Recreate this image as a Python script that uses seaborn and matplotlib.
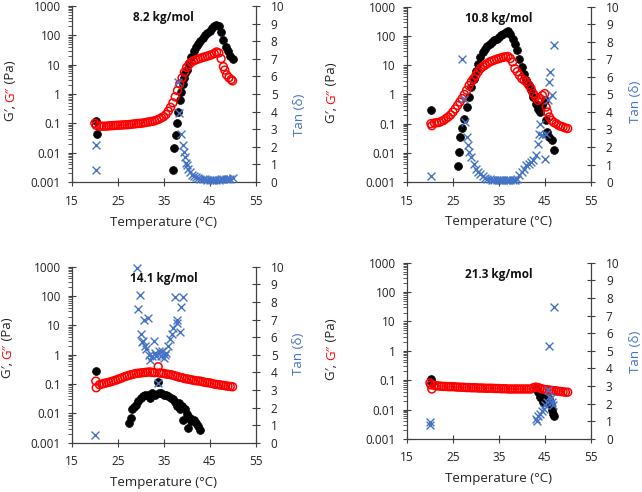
#!/usr/bin/env python3
# plot.py - G', G'' and tan(delta) vs temperature, four molecular weights

import matplotlib
matplotlib.use("Agg")
import matplotlib.pyplot as plt
import matplotlib.ticker as mticker
import seaborn as sns

# --- 1. Data ---
panel_titles = ["8.2 kg/mol", "10.8 kg/mol", "14.1 kg/mol", "21.3 kg/mol"]

# 8.2 kg/mol
t1_gp = [20.2, 20.4, 37.0, 37.3, 37.6, 37.9, 38.2, 38.5, 38.8, 39.1, 39.4, 39.7, 40.0, 40.5, 41.0, 41.5,
         42.0, 42.5, 43.0, 43.5, 44.0, 44.5, 45.0, 45.5, 46.0, 46.5, 47.0, 47.5, 48.0, 48.5, 49.0, 49.5, 50.0]
g1_gp = [0.12, 0.042, 0.0025, 0.015, 0.04, 0.1, 0.25, 0.6, 1.2, 2.2, 3.5, 5.0, 6.5, 11, 18, 28,
         40, 52, 65, 80, 100, 120, 145, 175, 205, 220, 200, 130, 70, 40, 28, 20, 15]
t1_gpp = [20.0, 20.3, 21.0, 21.5, 22.0, 22.5, 23.0, 23.5, 24.0, 24.5, 25.0, 25.5, 26.0, 26.5, 27.0, 27.5,
          28.0, 28.5, 29.0, 29.5, 30.0, 30.5, 31.0, 31.5, 32.0, 32.5, 33.0, 33.5, 34.0, 34.5, 35.0, 35.5,
          36.0, 36.5, 37.0, 37.5, 38.0, 38.5, 39.0, 39.5, 40.0, 40.5, 41.0, 41.5, 42.0, 42.5, 43.0, 43.5,
          44.0, 44.5, 45.0, 45.5, 46.0, 46.5, 47.0, 47.5, 48.0, 48.3, 48.7, 49.2, 49.7, 50.0]
g1_gpp = [0.10, 0.085, 0.08, 0.08, 0.08, 0.08, 0.082, 0.083, 0.084, 0.085, 0.086, 0.087, 0.088, 0.089, 0.09, 0.091,
          0.093, 0.095, 0.097, 0.099, 0.10, 0.103, 0.106, 0.11, 0.113, 0.117, 0.122, 0.13, 0.14, 0.155, 0.17, 0.2,
          0.26, 0.35, 0.5, 0.8, 1.3, 2.2, 3.5, 5.5, 8.0, 10, 12, 13.5, 14.5, 15.5, 16.5, 17.5,
          18.5, 19.5, 20.5, 22, 24, 27, 25, 16, 8.5, 6.5, 4.5, 3.6, 3.1, 2.8]
t1_tan = [20.3, 20.3, 38.1, 38.4, 38.8, 39.1, 39.4, 39.6, 39.8, 40.0, 40.3, 40.7, 41.2, 41.6, 42.0, 42.5,
          43.0, 43.5, 44.0, 44.5, 45.0, 45.5, 46.0, 46.5, 47.0, 47.5, 48.0, 48.5, 49.0, 49.5, 50.0]
tan1 = [2.1, 0.7, 5.7, 3.9, 2.75, 2.1, 1.7, 1.4, 1.1, 0.95, 0.76, 0.57, 0.42, 0.34, 0.28, 0.22,
        0.19, 0.17, 0.15, 0.14, 0.13, 0.13, 0.13, 0.14, 0.14, 0.15, 0.15, 0.16, 0.17, 0.2, 0.25]

# 10.8 kg/mol
t2_gp = [20.3, 26.0, 26.3, 26.6, 27.0, 27.5, 28.0, 28.5, 29.0, 29.5, 30.0, 30.5, 31.0, 31.5, 32.0, 32.5,
         33.0, 33.5, 34.0, 34.5, 35.0, 35.5, 36.0, 36.5, 37.0, 37.5, 38.0, 38.5, 39.0, 39.5, 40.0, 40.5,
         41.0, 41.5, 42.0, 42.5, 43.0, 43.5, 44.0, 44.5, 45.0, 45.2, 45.5, 46.0, 46.5, 47.0]
g2_gp = [0.3, 0.0035, 0.011, 0.035, 0.07, 0.15, 0.37, 0.82, 1.8, 3.5, 6.6, 11.5, 19, 28, 37, 45,
         55, 63, 72, 81, 93, 105, 120, 137, 150, 120, 81, 55, 33, 17, 8.8, 5.2,
         3.1, 2.1, 1.4, 0.82, 0.49, 0.33, 0.25, 0.43, 0.63, 0.13, 0.052, 0.035, 0.027, 0.013]
t2_gpp = [20.2, 20.4, 21.0, 21.5, 22.0, 22.5, 23.0, 23.5, 24.0, 24.5, 25.0, 25.5, 26.0, 26.5, 27.0, 27.5,
          28.0, 28.5, 29.0, 29.5, 30.0, 30.5, 31.0, 31.5, 32.0, 32.5, 33.0, 33.5, 34.0, 34.5, 35.0, 35.5,
          36.0, 36.5, 37.0, 37.5, 38.0, 38.5, 39.0, 39.5, 40.0, 40.5, 41.0, 41.5, 42.0, 42.5, 43.0, 43.5,
          44.0, 44.5, 45.0, 45.3, 45.6, 46.0, 46.5, 47.0, 47.5, 48.0, 48.5, 49.0, 49.5, 50.0]
g2_gpp = [0.1, 0.085, 0.105, 0.108, 0.11, 0.12, 0.13, 0.15, 0.17, 0.2, 0.25, 0.32, 0.42, 0.55, 0.72, 1.0,
          1.4, 2.0, 2.7, 3.5, 4.5, 6.0, 7.7, 9.0, 10, 11.5, 13, 14, 15, 16, 17, 18,
          19, 19.5, 20, 17, 13, 7.7, 6.0, 4.5, 3.5, 3.1, 2.7, 2.1, 1.6, 1.07, 0.82, 0.63,
          0.72, 0.93, 1.07, 0.37, 0.25, 0.17, 0.13, 0.11, 0.1, 0.088, 0.081, 0.077, 0.071, 0.068]
t2_tan = [20.3, 27.0, 27.4, 27.7, 28.0, 28.3, 28.6, 29.0, 29.5, 30.0, 30.5, 31.0, 31.5, 32.0, 32.5, 33.0,
          33.5, 34.0, 34.5, 35.0, 35.5, 36.0, 36.5, 37.0, 37.5, 38.0, 38.5, 39.0, 39.5, 40.0, 40.5, 41.0,
          41.5, 42.0, 42.5, 43.0, 43.5, 43.7, 44.0, 44.3, 45.0, 45.3, 45.7, 46.0, 46.2, 46.5, 47.0]
tan2 = [0.32, 7.0, 4.76, 3.4, 2.6, 2.1, 1.7, 1.43, 1.05, 0.76, 0.57, 0.44, 0.32, 0.25, 0.2, 0.16,
        0.14, 0.12, 0.11, 0.1, 0.1, 0.1, 0.1, 0.1, 0.1, 0.1, 0.11, 0.19, 0.38, 0.57, 0.76, 0.95,
        1.05, 1.14, 1.24, 1.52, 2.2, 2.76, 3.33, 2.67, 1.33, 2.76, 4.67, 5.7, 6.3, 4.95, 7.8]

# 14.1 kg/mol
t3_gp = [20.3, 27.5, 27.8, 28.2, 28.5, 29.0, 29.5, 30.0, 30.5, 31.0, 31.5, 32.0, 32.5, 33.0, 33.8, 34.0,
         34.5, 35.0, 35.5, 36.0, 36.5, 37.0, 37.5, 38.0, 38.3, 38.6, 39.0, 39.3, 39.7, 40.0, 40.3, 40.7,
         41.0, 41.5, 42.0, 42.5, 43.0]
g3_gp = [0.28, 0.0048, 0.0071, 0.0137, 0.017, 0.02, 0.026, 0.034, 0.039, 0.044, 0.041, 0.034, 0.05, 0.044, 0.117, 0.05,
         0.048, 0.044, 0.044, 0.039, 0.034, 0.03, 0.025, 0.018, 0.023, 0.0137, 0.018, 0.0062, 0.0137, 0.0093, 0.0032, 0.0071,
         0.0055, 0.0062, 0.0048, 0.0037, 0.0027]
t3_gpp = [20.2, 20.3, 21.0, 21.5, 22.0, 22.5, 23.0, 23.5, 24.0, 24.5, 25.0, 25.5, 26.0, 26.5, 27.0, 27.5,
          28.0, 28.5, 29.0, 29.5, 30.0, 30.5, 31.0, 31.5, 32.0, 32.5, 33.0, 33.8, 34.0, 34.5, 35.0, 35.5,
          36.0, 36.5, 37.0, 37.5, 38.0, 38.5, 39.0, 39.5, 40.0, 40.5, 41.0, 41.5, 42.0, 42.5, 43.0, 43.5,
          44.0, 44.5, 45.0, 45.5, 46.0, 46.5, 47.0, 47.5, 48.0, 48.5, 49.0, 49.5, 50.0]
g3_gpp = [0.126, 0.075, 0.095, 0.1, 0.105, 0.11, 0.115, 0.12, 0.128, 0.135, 0.144, 0.155, 0.165, 0.18, 0.19, 0.2,
          0.21, 0.22, 0.23, 0.235, 0.24, 0.245, 0.25, 0.255, 0.26, 0.25, 0.245, 0.39, 0.24, 0.235, 0.23, 0.22,
          0.215, 0.21, 0.2, 0.19, 0.18, 0.17, 0.165, 0.155, 0.15, 0.145, 0.14, 0.135, 0.13, 0.128, 0.126, 0.12,
          0.115, 0.112, 0.11, 0.105, 0.1, 0.097, 0.095, 0.092, 0.09, 0.087, 0.085, 0.083, 0.081]
t3_tan = [20.0, 29.2, 29.5, 29.8, 30.0, 30.2, 30.5, 30.8, 31.0, 31.2, 31.5, 31.8, 32.1, 32.4, 32.8, 33.0,
          33.3, 33.8, 34.0, 34.4, 34.7, 35.0, 35.3, 35.6, 36.0, 36.4, 36.8, 37.0, 37.5, 37.8, 38.0, 38.5,
          38.8, 39.2]
tan3 = [0.42, 9.95, 7.6, 8.4, 6.2, 5.7, 5.8, 7.0, 5.5, 5.3, 7.1, 5.0, 4.7, 4.9, 5.8, 5.1,
        4.9, 3.4, 5.2, 4.9, 5.2, 4.8, 5.0, 5.1, 5.5, 5.9, 6.2, 6.5, 8.3, 6.8, 7.0, 6.3,
        7.7, 8.3]

# 21.3 kg/mol
t4_gp = [20.2, 20.5, 43.0, 43.5, 44.0, 44.3, 44.7, 45.0, 45.5, 46.0, 46.3, 46.5, 46.8, 47.0]
g4_gp = [0.11, 0.081, 0.053, 0.039, 0.026, 0.023, 0.018, 0.026, 0.02, 0.023, 0.0137, 0.0093, 0.0071, 0.0059]
t4_gpp = [20.0, 20.2, 20.4, 21.0, 21.5, 22.0, 22.5, 23.0, 23.5, 24.0, 24.5, 25.0, 25.5, 26.0, 26.5, 27.0,
          27.5, 28.0, 28.5, 29.0, 29.5, 30.0, 30.5, 31.0, 31.5, 32.0, 32.5, 33.0, 33.5, 34.0, 34.5, 35.0,
          35.5, 36.0, 36.5, 37.0, 37.5, 38.0, 38.5, 39.0, 39.5, 40.0, 40.5, 41.0, 41.5, 42.0, 42.5, 43.0,
          43.5, 44.0, 44.5, 45.0, 45.5, 46.0, 46.5, 47.0, 47.5, 48.0, 48.5, 49.0, 49.5, 50.0]
g4_gpp = [0.081, 0.069, 0.05, 0.066, 0.064, 0.063, 0.062, 0.061, 0.061, 0.06, 0.06, 0.06, 0.059, 0.058, 0.058, 0.057,
          0.057, 0.056, 0.056, 0.055, 0.055, 0.055, 0.054, 0.054, 0.054, 0.053, 0.053, 0.053, 0.053, 0.052, 0.052, 0.052,
          0.051, 0.051, 0.051, 0.05, 0.05, 0.05, 0.05, 0.05, 0.05, 0.05, 0.05, 0.05, 0.05, 0.05, 0.055, 0.058,
          0.056, 0.053, 0.05, 0.048, 0.047, 0.046, 0.045, 0.044, 0.043, 0.042, 0.041, 0.04, 0.039, 0.039]
t4_tan = [20.0, 20.1, 43.0, 43.3, 43.6, 44.0, 44.4, 44.8, 45.1, 45.4, 45.8, 46.0, 46.0, 46.3, 46.6, 46.9, 47.1]
tan4 = [0.95, 0.76, 1.14, 1.0, 1.3, 1.4, 1.6, 1.7, 1.9, 2.1, 2.8, 2.4, 5.25, 2.3, 2.1, 1.9, 7.5]

# --- 2. Style ---
sns.set_style("white")
plt.rcParams["font.family"] = ["Open Sans", "DejaVu Sans"]
BLACK = "#000000"
RED = "#FF0000"
BLUE = "#4472C4"
SPINE = "#404040"

fig = plt.figure(figsize=(6.42, 4.92), dpi=100)

# axes boxes in figure fractions: left, bottom, width, height
boxes = [(0.112, 0.630, 0.286, 0.358),
         (0.634, 0.630, 0.286, 0.356),
         (0.112, 0.100, 0.286, 0.358),
         (0.634, 0.108, 0.286, 0.358)]
panels = [(t1_gp, g1_gp, t1_gpp, g1_gpp, t1_tan, tan1),
          (t2_gp, g2_gp, t2_gpp, g2_gpp, t2_tan, tan2),
          (t3_gp, g3_gp, t3_gpp, g3_gpp, t3_tan, tan3),
          (t4_gp, g4_gp, t4_gpp, g4_gpp, t4_tan, tan4)]
glabel_x = [-0.335, -0.41, -0.35, -0.41]
glabel_y = [0.52, 0.51, 0.54, 0.51]
tlabel_x = [1.24, 1.245, 1.235, 1.245]
tlabel_y = [0.38, 0.457, 0.506, 0.494]

label_fs = 9.5
tick_fs = 8.5
axes_pairs = []

for i, (box, data, title) in enumerate(zip(boxes, panels, panel_titles)):
    tgp, gp, tgpp, gpp, ttan, tan = data
    ax = fig.add_axes(box)
    ax2 = ax.twinx()

    sns.scatterplot(x=tgp, y=gp, ax=ax, marker="o", s=32, color=BLACK,
                    edgecolor=BLACK, linewidth=0.5, zorder=3)
    sns.scatterplot(x=tgpp, y=gpp, ax=ax, marker="o", s=32, facecolor="none",
                    edgecolor=RED, linewidth=1.1, zorder=4)
    sns.scatterplot(x=ttan, y=tan, ax=ax2, marker="x", s=32, color=BLUE,
                    linewidth=1.0, zorder=5, clip_on=False)

    ax.set_yscale("log")
    ax.set_ylim(0.001, 1000)
    ax.set_xlim(15, 55)
    ax.set_xticks([15, 25, 35, 45, 55])
    ax.yaxis.set_major_locator(mticker.LogLocator(base=10, numticks=10))
    ax.yaxis.set_minor_locator(mticker.LogLocator(base=10, subs=range(2, 10), numticks=20))
    ax.yaxis.set_major_formatter(mticker.FuncFormatter(lambda v, p: f"{v:g}"))
    ax.yaxis.set_minor_formatter(mticker.NullFormatter())

    ax2.set_ylim(0, 10)
    ax2.set_yticks(range(0, 11))

    for a in (ax, ax2):
        a.spines["top"].set_visible(False)
        for s in ("left", "right", "bottom"):
            a.spines[s].set_color(SPINE)
            a.spines[s].set_linewidth(0.8)
        a.tick_params(which="major", direction="inout", length=6, width=0.8,
                      color=SPINE, labelsize=tick_fs, labelcolor="#222222")
    ax.tick_params(axis="y", which="minor", direction="out", length=3, width=0.6,
                   color=SPINE, left=True)
    ax.tick_params(axis="x", pad=6, bottom=True)
    ax.tick_params(axis="y", which="major", pad=5, left=True)
    ax2.tick_params(axis="y", pad=8, right=True)

    ax.set_xlabel("Temperature (°C)", fontsize=label_fs, color="#222222")
    ax.xaxis.label.set_va("center")
    ax.xaxis.set_label_coords(0.5, -0.227)
    ax.set_ylabel("")
    ax2.set_ylabel("")

    ax.text(0.5, 0.935, title, transform=ax.transAxes, ha="center", va="center",
            fontsize=8.5, fontweight="bold", color="#111111")
    ax2.text(tlabel_x[i], tlabel_y[i], "Tan (δ)", transform=ax.transAxes, rotation=90,
             ha="center", va="center", fontsize=label_fs, color=BLUE)
    axes_pairs.append(ax)

# --- 3. Two-colour y labels: G′, G″ (Pa) ---
renderer = fig.canvas.get_renderer()
parts = [("G′, ", "#222222"), ("G″", RED), (" (Pa)", "#222222")]
for i, ax in enumerate(axes_pairs):
    texts = [ax.text(glabel_x[i], 0, s, color=c, rotation=90, transform=ax.transAxes,
                     ha="center", va="bottom", fontsize=label_fs) for s, c in parts]
    heights = [t.get_window_extent(renderer).height for t in texts]
    ax_h = ax.get_window_extent(renderer).height
    y = glabel_y[i] - sum(heights) / 2 / ax_h
    for t, h in zip(texts, heights):
        t.set_y(y)
        y += h / ax_h

fig.savefig("out.png", dpi=100)
plt.close(fig)
